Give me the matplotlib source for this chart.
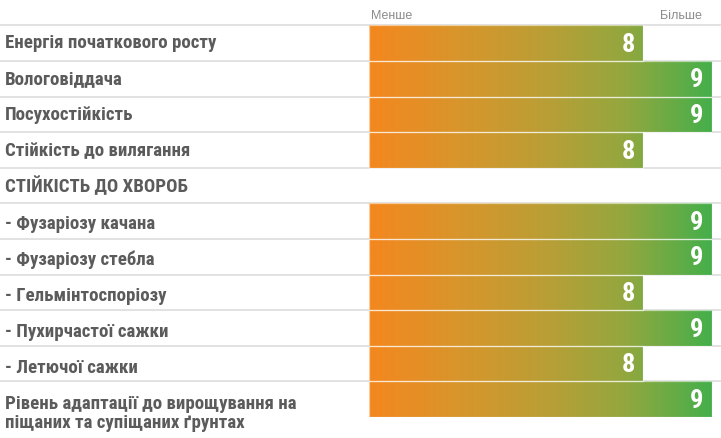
import matplotlib
matplotlib.use("Agg")
from matplotlib import pyplot as plt
from matplotlib import font_manager as fm
from matplotlib.colors import LinearSegmentedColormap
from matplotlib.transforms import blended_transform_factory
import numpy as np

# rows of the table (None = section header without a bar)
labels = [
    "Енергія початкового росту",
    "Вологовіддача",
    "Посухостійкість",
    "Стійкість до вилягання",
    "СТІЙКІСТЬ ДО ХВОРОБ",
    "- Фузаріозу качана",
    "- Фузаріозу стебла",
    "- Гельмінтоспоріозу",
    "- Пухирчастої сажки",
    "- Летючої сажки",
    "Рівень адаптації до вирощування на\nпіщаних та супіщаних ґрунтах",
]
scores = [8, 9, 9, 8, None, 9, 9, 8, 9, 8, 9]
scale_min, scale_max = 4, 9
scale_words = ["Менше", "Більше"]


def narrow_bold():
    # pick the narrowest bold face installed, best guesses first
    prefs = ["liberation sans narrow", "roboto condensed", "noto sans",
             "open sans", "dejavu sans"]
    cands = []
    for f in fm.fontManager.ttflist:
        nm = f.name.lower()
        narrow = ("narrow" in nm or "condensed" in nm or
                  str(f.stretch) in ("condensed", "semi-condensed", "extra-condensed"))
        if not narrow or f.weight not in ("bold", 700) or f.style != "normal":
            continue
        rank = next((k for k, p in enumerate(prefs) if nm.startswith(p)), 99)
        cands.append((rank, f.fname))
    if cands:
        cands.sort()
        return fm.FontProperties(fname=cands[0][1])
    return fm.FontProperties(family="Roboto", weight="bold")


fp = narrow_bold()

W, H = 721, 439
fig = plt.figure(figsize=(W / 100, H / 100), dpi=100)
n = len(labels)
row_h = 35.6
top_px = 26.3
left_px, right_px = 369.3, 711.5
ax = fig.add_axes([left_px / W, 1 - (top_px + n * row_h) / H,
                   (right_px - left_px) / W, n * row_h / H])
ax.axis("off")

# size the label font so the first label is about as wide as in the original
r = fig.canvas.get_renderer()
probe = fig.text(0, 0, labels[0], fontproperties=fp, fontsize=12)
wpx = probe.get_window_extent(r).width
probe.remove()
lab_size = min(13.6, 12 * 217 / wpx)

grad = LinearSegmentedColormap.from_list("og", [
    (0.0, "#F4871F"), (0.25, "#D9952B"), (0.5, "#BC9E35"),
    (0.75, "#93A73F"), (1.0, "#44AF4B")])
g = np.linspace(0, 1, 256).reshape(1, -1)

fig_y = blended_transform_factory(fig.transFigure, ax.transData)

# grey separators across the whole width
ax.hlines(range(0, n), 0, 1, transform=fig_y, colors="#e2e2e2",
          lw=1.4, clip_on=False, zorder=1)

for i, (lab, v) in enumerate(zip(labels, scores)):
    base = i + 0.62 + 0.012 * i
    for k, line in enumerate(lab.split("\n")):
        ax.text(5 / W, base + k * 19 / row_h, line, transform=fig_y,
                fontproperties=fp, fontsize=lab_size, color="#5b5b5b",
                va="baseline", ha="left")
    if v is None:
        continue
    bar = ax.barh(i + 0.5, v - scale_min, left=scale_min, height=1.0,
                  facecolor="none", edgecolor=(1, 1, 1, 0.55), lw=0.9,
                  zorder=4)[0]
    im = ax.imshow(g, cmap=grad, aspect="auto", interpolation="bilinear",
                   extent=(scale_min, scale_max, n, 0), zorder=3)
    im.set_clip_path(bar)
    ax.text(v - 0.12, i + 0.52, str(v), color="white", fontproperties=fp,
            fontsize=19, ha="right", va="center", zorder=5)

ax.set_xlim(scale_min, scale_max)
ax.set_ylim(n, 0)

fig.text(371 / W, 1 - 19.3 / H, scale_words[0], fontsize=9, color="#8c8c8c",
         family="Liberation Sans", ha="left", va="baseline")
fig.text(702 / W, 1 - 19.3 / H, scale_words[1], fontsize=9, color="#8c8c8c",
         family="Liberation Sans", ha="right", va="baseline")

fig.savefig("out.png", dpi=100, facecolor="white")
